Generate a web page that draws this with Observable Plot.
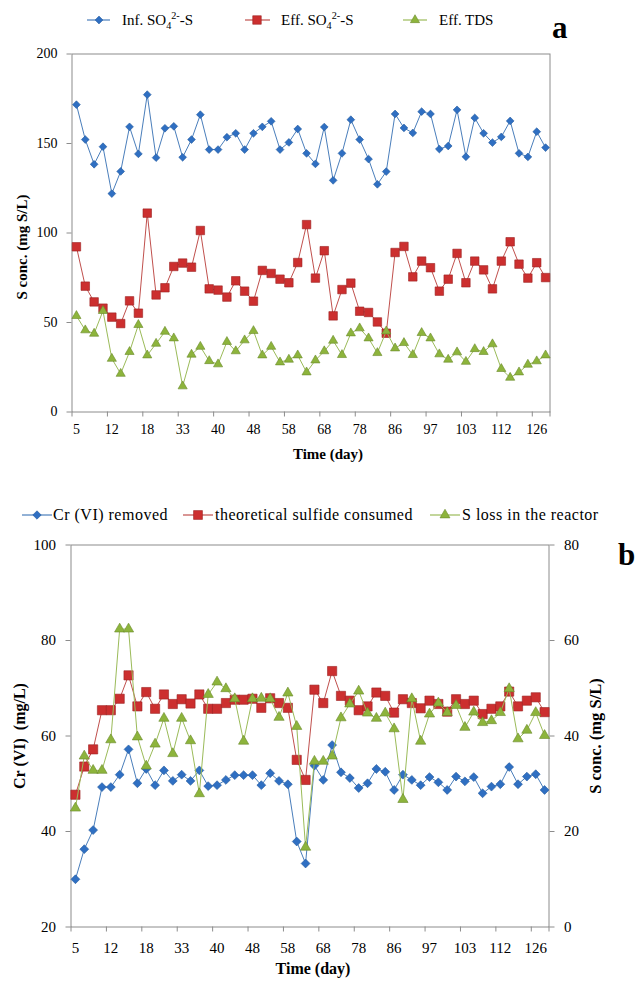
<!DOCTYPE html>
<html>
<head>
<meta charset="utf-8">
<script src="https://cdn.jsdelivr.net/npm/d3@7"></script>
<script src="https://cdn.jsdelivr.net/npm/@observablehq/plot@0.6"></script>
<style>
  body { margin: 0; background: #fff; }
  #wrap { position: relative; width: 635px; height: 982px; overflow: hidden;
          font-family: "Liberation Serif", "Times New Roman", serif; color: #000; }
  .abs { position: absolute; }
  .legtext { position: absolute; white-space: nowrap; height: 20px; line-height: 20px; }
  .legtext sub, .legtext sup { font-size: 0.68em; line-height: 0; }
  .panel-letter { position: absolute; font-weight: bold; font-size: 31px; line-height: 1; }
  svg { overflow: visible; }
</style>
</head>
<body>
<div id="wrap"></div>
<script>
// ---------------- data ----------------
const dayTickLabels = ["5","12","18","33","40","48","58","68","78","86","97","103","112","126"];

// panel a (mg S/L)
const infSO4 = [171.7,152.2,138.4,148.2,122.0,134.4,159.3,144.2,177.3,142.1,
  158.5,159.6,142.3,152.2,166.1,146.6,146.6,153.5,155.7,146.6,
  155.7,159.3,162.4,146.6,150.6,158.1,144.5,138.6,159.2,129.4,
  144.5,163.3,152.2,141.3,127.2,134.3,166.5,158.7,155.9,167.8,
  166.5,146.9,148.6,168.8,142.6,164.3,155.7,150.5,153.7,162.6,
  144.5,142.5,156.6,147.7];
const effSO4 = [92.3,70.3,61.5,58.0,53.0,49.4,62.1,55.2,111.1,65.4,
  69.4,81.3,83.2,80.9,101.4,68.8,68.1,64.2,73.3,67.5,
  61.9,79.1,77.4,74.2,72.2,83.5,104.7,74.8,90.1,53.7,
  68.4,72.0,56.3,55.6,50.3,44.0,89.1,92.5,75.5,84.3,
  80.6,67.5,74.2,88.6,72.2,84.3,79.4,68.8,84.3,95.1,
  82.6,74.8,83.4,75.1];
const effTDS = [53.7,45.7,43.8,56.5,29.8,21.4,33.6,48.7,31.7,38.2,
  44.9,41.2,14.4,32.1,36.5,28.5,26.7,39.2,34.0,40.1,
  45.3,31.7,36.5,27.8,29.3,31.7,22.2,28.9,34.0,39.9,
  31.9,44.0,46.8,41.2,33.0,45.1,35.6,38.6,31.9,44.2,
  41.2,32.3,29.3,33.4,28.1,35.2,33.6,37.9,24.1,19.2,
  22.2,26.5,28.4,31.7];

// panel b: Cr(VI) removed (mg/L, left axis)
const crRemoved = [30.0,36.3,40.3,49.3,49.3,51.9,57.2,50.1,53.1,49.7,
  52.8,50.6,51.9,50.6,52.8,49.5,49.7,50.8,51.8,51.8,
  51.8,49.7,52.2,50.6,49.9,37.9,33.3,53.8,50.8,58.1,
  52.4,51.2,49.1,50.1,53.1,52.5,48.7,51.9,50.8,49.7,
  51.4,50.3,48.7,51.5,50.5,51.4,48.0,49.4,49.9,53.5,
  49.9,51.5,52.0,48.7];
// panel b: mg S/L (right axis)
const sulfideConsumed = [27.7,33.6,37.2,45.4,45.4,47.8,52.7,46.2,49.2,45.7,
  48.7,46.7,47.7,46.8,48.7,45.7,45.7,46.9,47.6,47.6,
  47.8,45.9,47.9,46.9,45.9,35.0,30.8,49.7,46.9,53.6,
  48.4,47.4,45.4,46.2,49.1,48.4,44.9,47.7,46.9,45.8,
  47.4,46.7,45.1,47.7,46.7,47.4,44.6,45.7,46.2,49.3,
  46.2,47.4,48.1,45.0];
const sLoss = [24.9,35.8,32.8,32.8,39.2,62.4,62.4,39.8,33.7,38.3,
  43.7,36.3,43.7,39.0,27.9,48.7,51.3,49.9,47.8,38.9,
  47.8,47.9,47.8,43.9,49.0,42.0,16.7,34.7,34.7,35.8,
  43.8,46.7,49.4,44.8,43.7,44.8,41.5,26.7,47.8,38.9,
  44.6,46.9,44.9,46.4,41.8,45.0,42.8,43.2,44.9,49.9,
  39.4,41.2,44.9,40.1];

const yTicksA = [0, 50, 100, 150, 200];
const yTicksLeftB = [20, 40, 60, 80, 100];
const yTicksRightB = [0, 20, 40, 60, 80];

// ---------------- styling ----------------
const BLUE  = {line: "#4a7ebb", fill: "#2f6fc2", edge: "#245a9e"};
const RED   = {line: "#c0504d", fill: "#cc2f2f", edge: "#9c2222"};
const GREEN = {line: "#9bbb59", fill: "#8db43c", edge: "#6a8a2a"};
const GRAY = "#8c8c8c";
const SERIF = "'Liberation Serif', 'Times New Roman', serif";

const n = infSO4.length;
const idx = d3.range(n);
const labelTicks = dayTickLabels.map((_, k) => k * 4);
const boundaryTicks = dayTickLabels.map((_, k) => k * 4 - 0.5).concat([n - 0.5]);

const leftDomainB = [20, 100];
const rightDomainB = [0, 80];
const toLeft = v => leftDomainB[0] + (v - rightDomainB[0]) * (leftDomainB[1] - leftDomainB[0]) / (rightDomainB[1] - rightDomainB[0]);
const toRight = v => rightDomainB[0] + (v - leftDomainB[0]) * (rightDomainB[1] - rightDomainB[0]) / (leftDomainB[1] - leftDomainB[0]);

function series(values, color, symbol, r, map = v => v) {
  return [
    Plot.line(idx, {x: i => i, y: i => map(values[i]), stroke: color.line, strokeWidth: 1}),
    Plot.dot(idx, {x: i => i, y: i => map(values[i]), symbol, r, fill: color.fill, stroke: color.edge, strokeWidth: 0.6})
  ];
}

function xAxes(fontSize, pad) {
  return [
    Plot.axisX(boundaryTicks, {tickSize: 5, tickFormat: () => "", label: null, stroke: GRAY, strokeOpacity: 1}),
    Plot.axisX(labelTicks, {tickSize: 0, tickPadding: pad, tickFormat: i => dayTickLabels[Math.round(i / 4)], label: null, fontSize, fill: "#000"})
  ];
}

const wrap = document.getElementById("wrap");

// ---------------- panel a ----------------
const plotA = Plot.plot({
  width: 635, height: 447,
  marginLeft: 71.5, marginRight: 85.5, marginTop: 15.5, marginBottom: 73.5,
  x: {domain: [-0.5, n - 0.5], axis: null},
  y: {domain: [0, 200], axis: null},
  style: {fontFamily: SERIF, fontSize: "14px", color: "#000", background: "transparent", overflow: "visible"},
  marks: [
    Plot.frame({stroke: GRAY, strokeWidth: 1}),
    Plot.axisY(yTicksA, {tickSize: 5, tickPadding: 9.5, label: null, stroke: GRAY, strokeOpacity: 1, fontSize: 14, fill: "#000"}),
    ...xAxes(14, 12),
    Plot.text(["S conc. (mg S/L)"], {frameAnchor: "left", textAnchor: "middle", rotate: -90, dx: -49.5, dy: 14, fontWeight: "bold", fontSize: 15, fill: "#000"}),
    Plot.text(["Time (day)"], {frameAnchor: "bottom", textAnchor: "middle", dx: 17, dy: 47, fontWeight: "bold", fontSize: 15, fill: "#000"}),
    ...series(infSO4, BLUE, "diamond2", 3.5),
    ...series(effSO4, RED, "square", 4.8),
    ...series(effTDS, GREEN, "triangle", 3.4)
  ]
});
plotA.style.position = "absolute";
plotA.style.left = "0px";
plotA.style.top = "38px";
wrap.appendChild(plotA);

// ---------------- panel b ----------------
const plotB = Plot.plot({
  width: 635, height: 452,
  marginLeft: 70.5, marginRight: 86.5, marginTop: 14.5, marginBottom: 55.5,
  x: {domain: [-0.5, n - 0.5], axis: null},
  y: {domain: leftDomainB, axis: null},
  style: {fontFamily: SERIF, fontSize: "15px", color: "#000", background: "transparent", overflow: "visible"},
  marks: [
    Plot.frame({stroke: GRAY, strokeWidth: 1}),
    Plot.axisY(yTicksLeftB, {anchor: "left", tickSize: 5, tickPadding: 10, label: null, stroke: GRAY, strokeOpacity: 1, fontSize: 15, fill: "#000"}),
    Plot.axisY(yTicksRightB.map(toLeft), {anchor: "right", tickSize: 5, tickPadding: 10, tickFormat: d => String(Math.round(toRight(d))), label: null, stroke: GRAY, strokeOpacity: 1, fontSize: 15, fill: "#000"}),
    ...xAxes(15, 15),
    Plot.text(["Cr (VI)  (mg/L)"], {frameAnchor: "left", textAnchor: "middle", rotate: -90, dx: -51.5, dy: 0, fontWeight: "bold", fontSize: 16, fill: "#000"}),
    Plot.text(["S conc. (mg S/L)"], {frameAnchor: "right", textAnchor: "middle", rotate: -90, dx: 46.5, dy: 0, fontWeight: "bold", fontSize: 16.5, fill: "#000"}),
    Plot.text(["Time (day)"], {frameAnchor: "bottom", textAnchor: "middle", dx: 3, dy: 47, fontWeight: "bold", fontSize: 16, fill: "#000"}),
    ...series(crRemoved, BLUE, "diamond2", 4),
    ...series(sulfideConsumed, RED, "square", 5.2, toLeft),
    ...series(sLoss, GREEN, "triangle", 3.8, toLeft)
  ]
});
plotB.style.position = "absolute";
plotB.style.left = "0px";
plotB.style.top = "530px";
wrap.appendChild(plotB);

// ---------------- legends ----------------
const symbolPaths = {
  diamond2: d3.symbolDiamond2,
  square: d3.symbolSquare,
  triangle: d3.symbolTriangle
};
function legendItem({x0, x1, mx, textX, cy, color, symbol, r, html, fontSize, spacing}) {
  const ns = "http://www.w3.org/2000/svg";
  const svg = document.createElementNS(ns, "svg");
  const w = x1 - x0 + 12;
  svg.setAttribute("width", w);
  svg.setAttribute("height", 16);
  svg.setAttribute("class", "abs");
  svg.style.left = (x0 - 6) + "px";
  svg.style.top = (cy - 8) + "px";
  const line = document.createElementNS(ns, "line");
  line.setAttribute("x1", 6); line.setAttribute("x2", x1 - x0 + 6);
  line.setAttribute("y1", 8); line.setAttribute("y2", 8);
  line.setAttribute("stroke", color.line); line.setAttribute("stroke-width", 1.2);
  svg.appendChild(line);
  const p = document.createElementNS(ns, "path");
  p.setAttribute("d", d3.symbol(symbolPaths[symbol], Math.PI * r * r)());
  p.setAttribute("transform", `translate(${mx - x0 + 6},8)`);
  p.setAttribute("fill", color.fill);
  p.setAttribute("stroke", color.edge);
  p.setAttribute("stroke-width", 0.6);
  svg.appendChild(p);
  wrap.appendChild(svg);
  const t = document.createElement("div");
  t.className = "legtext";
  t.style.left = textX + "px";
  t.style.top = (cy - 10) + "px";
  t.style.fontSize = fontSize + "px";
  if (spacing) t.style.letterSpacing = spacing + "px";
  t.innerHTML = html;
  wrap.appendChild(t);
}

const legendA = [
  {x0: 87, x1: 110, mx: 99, textX: 122, color: BLUE, symbol: "diamond2", r: 3.5, html: "Inf. SO<sub>4</sub><sup>2-</sup>-S"},
  {x0: 245, x1: 270, mx: 257, textX: 281, color: RED, symbol: "square", r: 4.8, html: "Eff. SO<sub>4</sub><sup>2-</sup>-S"},
  {x0: 403, x1: 427, mx: 415, textX: 439, color: GREEN, symbol: "triangle", r: 3.4, html: "Eff. TDS"}
];
legendA.forEach(d => legendItem({...d, cy: 20, fontSize: 15}));

const legendB = [
  {x0: 22, x1: 52, mx: 37, textX: 53, color: BLUE, symbol: "diamond2", r: 3.8, html: "Cr (VI) removed"},
  {x0: 183, x1: 213, mx: 198, textX: 215, color: RED, symbol: "square", r: 5, html: "theoretical sulfide consumed"},
  {x0: 430, x1: 460, mx: 445, textX: 462, color: GREEN, symbol: "triangle", r: 3.7, html: "S loss in the reactor"}
];
legendB.forEach(d => legendItem({...d, cy: 515, fontSize: 16, spacing: 0.5}));

// panel letters
const la = document.createElement("div");
la.className = "panel-letter"; la.textContent = "a";
la.style.left = "552px"; la.style.top = "12px";
wrap.appendChild(la);
const lb = document.createElement("div");
lb.className = "panel-letter"; lb.textContent = "b";
lb.style.left = "618px"; lb.style.top = "539px";
wrap.appendChild(lb);
</script>
</body>
</html>
